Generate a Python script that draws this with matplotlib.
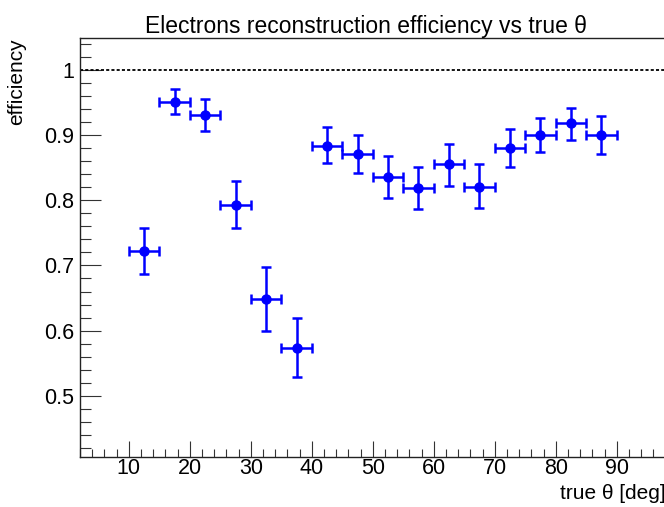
import matplotlib
matplotlib.use("Agg")
import matplotlib.pyplot as plt
from matplotlib.ticker import MultipleLocator

# Data (bin centres, efficiency, errors)
theta = [12.5, 17.5, 22.5, 27.5, 32.5, 37.5, 42.5, 47.5, 52.5, 57.5, 62.5, 67.5, 72.5, 77.5, 82.5, 87.5]
eff = [0.722, 0.951, 0.931, 0.793, 0.648, 0.574, 0.884, 0.871, 0.836, 0.819, 0.855, 0.821, 0.881, 0.900, 0.918, 0.900]
err_up = [0.036, 0.020, 0.024, 0.036, 0.050, 0.046, 0.028, 0.029, 0.032, 0.032, 0.032, 0.035, 0.028, 0.026, 0.024, 0.029]
err_lo = [0.035, 0.019, 0.025, 0.035, 0.049, 0.046, 0.027, 0.029, 0.032, 0.032, 0.033, 0.033, 0.030, 0.026, 0.025, 0.029]
half_width = [2.5] * len(theta)

title = "Electrons reconstruction efficiency vs true θ"
xlabel = "true θ [deg]"
ylabel = "efficiency"

plt.rcParams['font.family'] = ['Liberation Sans', 'DejaVu Sans']

W, H = 664, 507
fig = plt.figure(figsize=(W / 100, H / 100), dpi=100)
left, right, top, bottom = 80, 665.5, 38.3, 456.7
ax = fig.add_axes([left / W, 1 - bottom / H, (right - left) / W, (bottom - top) / H])

ax.errorbar(theta, eff, yerr=[err_lo, err_up], xerr=half_width,
            fmt='o', color='#0000ff', ecolor='#0000ff', markersize=6.5,
            elinewidth=1.8, capsize=3.3, capthick=1.8)
ax.axhline(1.0, color='black', lw=1.3, linestyle=(0, (1.7, 1.2)))

ax.set_xlim(2, 98)
ax.set_ylim(0.4064, 1.0487)

ax.xaxis.set_major_locator(MultipleLocator(10))
ax.xaxis.set_minor_locator(MultipleLocator(2))
ax.yaxis.set_major_locator(MultipleLocator(0.1))
ax.yaxis.set_minor_locator(MultipleLocator(0.02))
ax.xaxis.set_major_formatter(plt.FuncFormatter(lambda v, p: f"{v:g}"))
ax.yaxis.set_major_formatter(plt.FuncFormatter(lambda v, p: f"{v:g}"))

ax.tick_params(axis='both', which='both', direction='in', top=False, right=False,
               width=0.8, color='#333333', labelsize=15.5)
ax.tick_params(axis='x', which='major', length=11.5, pad=1)
ax.tick_params(axis='x', which='minor', length=5.8)
ax.tick_params(axis='y', which='major', length=15, pad=4.3)
ax.tick_params(axis='y', which='minor', length=7.7)
ax.xaxis.set_ticks([t for t in range(10, 100, 10)])

for s in ['left', 'bottom', 'top']:
    ax.spines[s].set_linewidth(1.0)
    ax.spines[s].set_color('#222222')
ax.spines['right'].set_visible(False)

fig.text(366 / W, 1 - 33 / H, title, ha='center', va='baseline', fontsize=16.5)
fig.text(16.7 / W, 1 - 38 / H, ylabel, ha='center', va='top', rotation=90, fontsize=15)
fig.text(right / W, 1 - 499 / H, xlabel, ha='right', va='baseline', fontsize=15)

fig.savefig("out.png", dpi=100)
